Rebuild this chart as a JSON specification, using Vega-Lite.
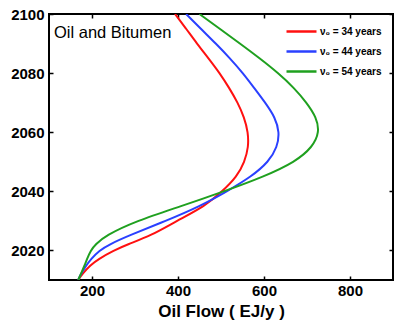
{
  "$schema": "https://vega.github.io/schema/vega-lite/v6.json",
  "autosize": "none",
  "width": 344,
  "height": 266,
  "padding": {"left": 49, "top": 14, "right": 22, "bottom": 41},
  "background": "white",
  "config": {
    "view": {"stroke": "black", "strokeWidth": 2},
    "font": "Liberation Sans"
  },
  "title": {
    "text": "Oil and Bitumen",
    "anchor": "start",
    "frame": "group",
    "orient": "top",
    "offset": -24,
    "dx": 5,
    "dy": 23,
    "baseline": "alphabetic",
    "fontSize": 16.5,
    "fontWeight": "normal",
    "font": "Liberation Sans",
    "color": "black"
  },
  "data": {
    "values": [
      {"series": "ν₀ = 34 years", "year": 2010, "flow": 168},
      {"series": "ν₀ = 34 years", "year": 2012, "flow": 177},
      {"series": "ν₀ = 34 years", "year": 2015, "flow": 196},
      {"series": "ν₀ = 34 years", "year": 2017, "flow": 214},
      {"series": "ν₀ = 34 years", "year": 2020, "flow": 251},
      {"series": "ν₀ = 34 years", "year": 2022, "flow": 282},
      {"series": "ν₀ = 34 years", "year": 2025, "flow": 337},
      {"series": "ν₀ = 34 years", "year": 2030, "flow": 397},
      {"series": "ν₀ = 34 years", "year": 2035, "flow": 463},
      {"series": "ν₀ = 34 years", "year": 2040, "flow": 503},
      {"series": "ν₀ = 34 years", "year": 2045, "flow": 537},
      {"series": "ν₀ = 34 years", "year": 2050, "flow": 555},
      {"series": "ν₀ = 34 years", "year": 2055, "flow": 564},
      {"series": "ν₀ = 34 years", "year": 2060, "flow": 563},
      {"series": "ν₀ = 34 years", "year": 2065, "flow": 554},
      {"series": "ν₀ = 34 years", "year": 2070, "flow": 539},
      {"series": "ν₀ = 34 years", "year": 2075, "flow": 519},
      {"series": "ν₀ = 34 years", "year": 2080, "flow": 497},
      {"series": "ν₀ = 34 years", "year": 2085, "flow": 471},
      {"series": "ν₀ = 34 years", "year": 2090, "flow": 444},
      {"series": "ν₀ = 34 years", "year": 2095, "flow": 419},
      {"series": "ν₀ = 34 years", "year": 2100, "flow": 393},
      {"series": "ν₀ = 44 years", "year": 2010, "flow": 168},
      {"series": "ν₀ = 44 years", "year": 2012, "flow": 174},
      {"series": "ν₀ = 44 years", "year": 2015, "flow": 187},
      {"series": "ν₀ = 44 years", "year": 2017, "flow": 197},
      {"series": "ν₀ = 44 years", "year": 2020, "flow": 217},
      {"series": "ν₀ = 44 years", "year": 2022, "flow": 240},
      {"series": "ν₀ = 44 years", "year": 2025, "flow": 285},
      {"series": "ν₀ = 44 years", "year": 2030, "flow": 372},
      {"series": "ν₀ = 44 years", "year": 2035, "flow": 452},
      {"series": "ν₀ = 44 years", "year": 2040, "flow": 514},
      {"series": "ν₀ = 44 years", "year": 2045, "flow": 571},
      {"series": "ν₀ = 44 years", "year": 2050, "flow": 611},
      {"series": "ν₀ = 44 years", "year": 2055, "flow": 631},
      {"series": "ν₀ = 44 years", "year": 2060, "flow": 636},
      {"series": "ν₀ = 44 years", "year": 2065, "flow": 626},
      {"series": "ν₀ = 44 years", "year": 2070, "flow": 603},
      {"series": "ν₀ = 44 years", "year": 2075, "flow": 577},
      {"series": "ν₀ = 44 years", "year": 2080, "flow": 551},
      {"series": "ν₀ = 44 years", "year": 2085, "flow": 521},
      {"series": "ν₀ = 44 years", "year": 2090, "flow": 488},
      {"series": "ν₀ = 44 years", "year": 2095, "flow": 453},
      {"series": "ν₀ = 44 years", "year": 2100, "flow": 419},
      {"series": "ν₀ = 54 years", "year": 2010, "flow": 168},
      {"series": "ν₀ = 54 years", "year": 2012, "flow": 174},
      {"series": "ν₀ = 54 years", "year": 2015, "flow": 183},
      {"series": "ν₀ = 54 years", "year": 2017, "flow": 188},
      {"series": "ν₀ = 54 years", "year": 2020, "flow": 197},
      {"series": "ν₀ = 54 years", "year": 2022, "flow": 208},
      {"series": "ν₀ = 54 years", "year": 2025, "flow": 231},
      {"series": "ν₀ = 54 years", "year": 2030, "flow": 303},
      {"series": "ν₀ = 54 years", "year": 2035, "flow": 408},
      {"series": "ν₀ = 54 years", "year": 2040, "flow": 507},
      {"series": "ν₀ = 54 years", "year": 2045, "flow": 600},
      {"series": "ν₀ = 54 years", "year": 2050, "flow": 673},
      {"series": "ν₀ = 54 years", "year": 2055, "flow": 713},
      {"series": "ν₀ = 54 years", "year": 2060, "flow": 729},
      {"series": "ν₀ = 54 years", "year": 2065, "flow": 722},
      {"series": "ν₀ = 54 years", "year": 2070, "flow": 699},
      {"series": "ν₀ = 54 years", "year": 2075, "flow": 670},
      {"series": "ν₀ = 54 years", "year": 2080, "flow": 633},
      {"series": "ν₀ = 54 years", "year": 2085, "flow": 590},
      {"series": "ν₀ = 54 years", "year": 2090, "flow": 544},
      {"series": "ν₀ = 54 years", "year": 2095, "flow": 497},
      {"series": "ν₀ = 54 years", "year": 2100, "flow": 450}
    ]
  },
  "layer": [
    {
      "mark": {"type": "line", "interpolate": "basis", "strokeWidth": 2, "clip": true},
      "encoding": {
        "x": {
          "field": "flow", "type": "quantitative",
          "scale": {"domain": [100, 900], "nice": false, "zero": false},
          "axis": {
            "orient": "bottom", "values": [200, 400, 600, 800], "domain": false, "grid": false,
            "tickSize": -4, "tickWidth": 1.5, "tickColor": "black",
            "labelPadding": 7, "labelFontSize": 15, "labelFontWeight": "bold", "labelColor": "black",
            "labelFont": "Liberation Sans",
            "title": "Oil Flow ( EJ/y )", "titleFontSize": 17, "titleFontWeight": "bold",
            "titleColor": "black", "titleFont": "Liberation Sans", "titlePadding": 5
          }
        },
        "y": {
          "field": "year", "type": "quantitative",
          "scale": {"domain": [2010, 2100], "nice": false, "zero": false},
          "axis": {
            "orient": "left", "values": [2020, 2040, 2060, 2080, 2100], "format": "d",
            "domain": false, "grid": false,
            "tickSize": -4, "tickWidth": 1.5, "tickColor": "black",
            "labelPadding": 9, "labelFontSize": 15, "labelFontWeight": "bold", "labelColor": "black",
            "labelFont": "Liberation Sans", "title": null
          }
        },
        "color": {
          "field": "series", "type": "nominal",
          "scale": {
            "domain": ["ν₀ = 34 years", "ν₀ = 44 years", "ν₀ = 54 years"],
            "range": ["#ff1010", "#2a40ff", "#1fa01f"]
          },
          "legend": {
            "orient": "none", "legendX": 246, "legendY": 11, "padding": 0,
            "title": null,
            "symbolType": "M-3,0H3", "symbolSize": 100, "symbolStrokeWidth": 2.5,
            "symbolFillColor": "transparent",
            "labelOffset": 12, "labelFontSize": 10, "labelFontWeight": "bold",
            "labelColor": "black", "labelFont": "Liberation Sans",
            "rowPadding": 8
          }
        },
        "order": {"field": "year", "type": "quantitative"}
      }
    },
    {
      "mark": {"type": "line", "opacity": 0},
      "encoding": {
        "x": {
          "field": "flow", "type": "quantitative",
          "axis": {
            "orient": "top", "values": [200, 400, 600, 800], "domain": false, "grid": false,
            "labels": false, "title": null,
            "tickSize": -4, "tickWidth": 1.5, "tickColor": "black"
          }
        },
        "y": {
          "field": "year", "type": "quantitative",
          "axis": {
            "orient": "right", "values": [2020, 2040, 2060, 2080, 2100], "domain": false, "grid": false,
            "labels": false, "title": null,
            "tickSize": -4, "tickWidth": 1.5, "tickColor": "black"
          }
        },
        "detail": {"field": "series", "type": "nominal"},
        "order": {"field": "year", "type": "quantitative"}
      }
    }
  ],
  "resolve": {"axis": {"x": "independent", "y": "independent"}}
}
